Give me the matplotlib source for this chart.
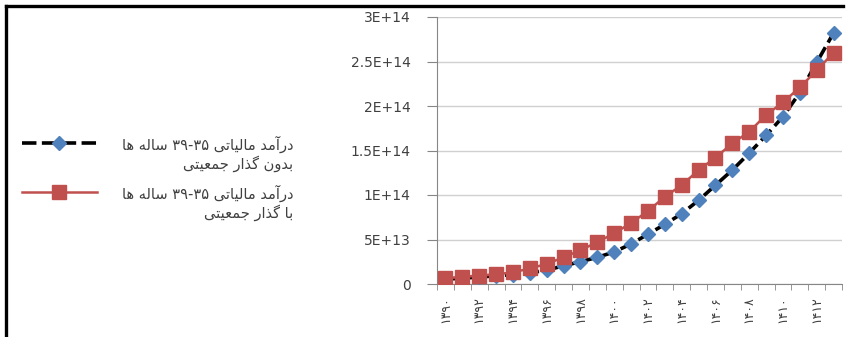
import re
import matplotlib
matplotlib.use('Agg')
import matplotlib.pyplot as plt
from matplotlib.lines import Line2D
import numpy as np

# Persian years on the category axis
years = list(range(1390, 1414))
fa_digits = str.maketrans('0123456789', '۰۱۲۳۴۵۶۷۸۹')
year_labels = [str(y).translate(fa_digits) for y in years]

# tax income of the 35-39 age group (units of 1E13)
without_transition = [0.55, 0.65, 0.78, 0.92, 1.05, 1.25, 1.55, 2.05, 2.5, 3.0, 3.6, 4.5,
                      5.6, 6.7, 7.9, 9.4, 11.1, 12.8, 14.7, 16.7, 18.8, 21.5, 24.9, 28.2]
with_transition = [0.65, 0.8, 0.95, 1.1, 1.3, 1.75, 2.25, 3.0, 3.8, 4.7, 5.7, 6.85,
                   8.2, 9.8, 11.1, 12.8, 14.2, 15.8, 17.1, 19.0, 20.4, 22.1, 24.0, 26.0]

ytick_vals = [0, 5e13, 1e14, 1.5e14, 2e14, 2.5e14, 3e14]
ytick_labels = ['0', '5E+13', '1E+14', '1.5E+14', '2E+14', '2.5E+14', '3E+14']

legend_lines = [['درآمد مالیاتی ۳۵-۳۹ ساله ها', 'بدون گذار جمعیتی'],
                ['درآمد مالیاتی ۳۵-۳۹ ساله ها', 'با گذار جمعیتی']]

# contextual forms: isolated, final, initial, medial
FORMS = {
    'آ': ('\uFE81', '\uFE82', None, None),
    'ا': ('\uFE8D', '\uFE8E', None, None),
    'ب': ('\uFE8F', '\uFE90', '\uFE91', '\uFE92'),
    'ت': ('\uFE95', '\uFE96', '\uFE97', '\uFE98'),
    'ج': ('\uFE9D', '\uFE9E', '\uFE9F', '\uFEA0'),
    'د': ('\uFEA9', '\uFEAA', None, None),
    'ذ': ('\uFEAB', '\uFEAC', None, None),
    'ر': ('\uFEAD', '\uFEAE', None, None),
    'س': ('\uFEB1', '\uFEB2', '\uFEB3', '\uFEB4'),
    'ع': ('\uFEC9', '\uFECA', '\uFECB', '\uFECC'),
    'ل': ('\uFEDD', '\uFEDE', '\uFEDF', '\uFEE0'),
    'م': ('\uFEE1', '\uFEE2', '\uFEE3', '\uFEE4'),
    'ن': ('\uFEE5', '\uFEE6', '\uFEE7', '\uFEE8'),
    'ه': ('\uFEE9', '\uFEEA', '\uFEEB', '\uFEEC'),
    'و': ('\uFEED', '\uFEEE', None, None),
    'ی': ('\uFBFC', '\uFBFD', '\uFBFE', '\uFBFF'),
    'گ': ('\uFB92', '\uFB93', '\uFB94', '\uFB95'),
}


def fa(text):
    out = []
    for i, ch in enumerate(text):
        if ch not in FORMS:
            out.append(ch)
            continue
        forms = FORMS[ch]
        prev = text[i - 1] if i > 0 else ''
        nxt = text[i + 1] if i + 1 < len(text) else ''
        join_prev = prev in FORMS and FORMS[prev][2] is not None
        join_next = forms[2] is not None and nxt in FORMS
        if join_prev and join_next:
            out.append(forms[3])
        elif join_prev:
            out.append(forms[1])
        elif join_next:
            out.append(forms[2])
        else:
            out.append(forms[0])
    shaped = ''.join(out)
    # right-to-left order, digit runs stay left-to-right
    tokens = re.findall(r'[۰-۹]+|[^۰-۹]+', shaped)
    return ''.join(t if t[0] in '۰۱۲۳۴۵۶۷۸۹' else t[::-1] for t in reversed(tokens))


W, H = 849, 337
fig = plt.figure(figsize=(W / 100, H / 100), dpi=100)
ax = fig.add_axes([437 / W, 1 - 284 / H, (842 - 437) / W, (284 - 17) / H])

blue = '#4F81BD'
red = '#C0504D'
dash = (0, (4, 1.5))
x = np.arange(len(years))
ax.plot(x, np.array(without_transition) * 1e13, color='black', lw=2.6, ls=dash,
        marker='D', ms=7.6, mfc=blue, mec=blue, zorder=3)
ax.plot(x, np.array(with_transition) * 1e13, color=red, lw=1.8,
        marker='s', ms=9.8, mfc=red, mec=red, zorder=4)

ax.set_xlim(-0.5, len(years) - 0.5)
ax.set_ylim(0, 3e14)
ax.set_yticks(ytick_vals)
ax.set_yticklabels(ytick_labels, fontsize=10, color='#404040')
ax.set_xticks(x[::2])
ax.set_xticklabels(year_labels[::2], rotation=90, fontsize=9, color='#404040')
ax.set_xticks(np.arange(-0.5, len(years)), minor=True)
ax.tick_params(axis='x', which='major', length=0, pad=9)
ax.tick_params(axis='x', which='minor', length=4, color='#868686')
ax.tick_params(axis='y', length=7, color='#868686', pad=12)
ax.yaxis.grid(True, color='#d0d0d0', lw=1)
ax.set_axisbelow(True)
for side in ['top', 'right']:
    ax.spines[side].set_visible(False)
for side in ['left', 'bottom']:
    ax.spines[side].set_color('#868686')


def px(xp, yp):
    return xp / W, 1 - yp / H


# frame around the chart
fig.add_artist(Line2D([6 / W, 843 / W], [1 - 6 / H] * 2, color='black', lw=2.4, transform=fig.transFigure))
fig.add_artist(Line2D([6 / W] * 2, [1 - 6 / H, 0], color='black', lw=2.4, transform=fig.transFigure))

# legend on the left
line_styles = [dict(color='black', lw=2.6, ls=dash), dict(color=red, lw=1.8)]
marker_styles = [dict(marker='D', ms=7.6, mfc=blue, mec=blue),
                 dict(marker='s', ms=9.8, mfc=red, mec=red)]
for k, lines in enumerate(legend_lines):
    y0 = 143 + 49 * k
    fig.add_artist(Line2D([px(22, 0)[0], px(97, 0)[0]], [px(0, y0)[1]] * 2,
                          transform=fig.transFigure, **line_styles[k]))
    fig.add_artist(Line2D([px(59, 0)[0]], [px(0, y0)[1]], transform=fig.transFigure,
                          ls='none', **marker_styles[k]))
    for j, line in enumerate(lines):
        xt, yt = px(293, y0 + 1 + 20 * j)
        fig.text(xt, yt, fa(line), ha='right', va='center', fontsize=10.5,
                 color='#404040', family='DejaVu Sans')

fig.savefig('out.png', dpi=100, facecolor='white')
